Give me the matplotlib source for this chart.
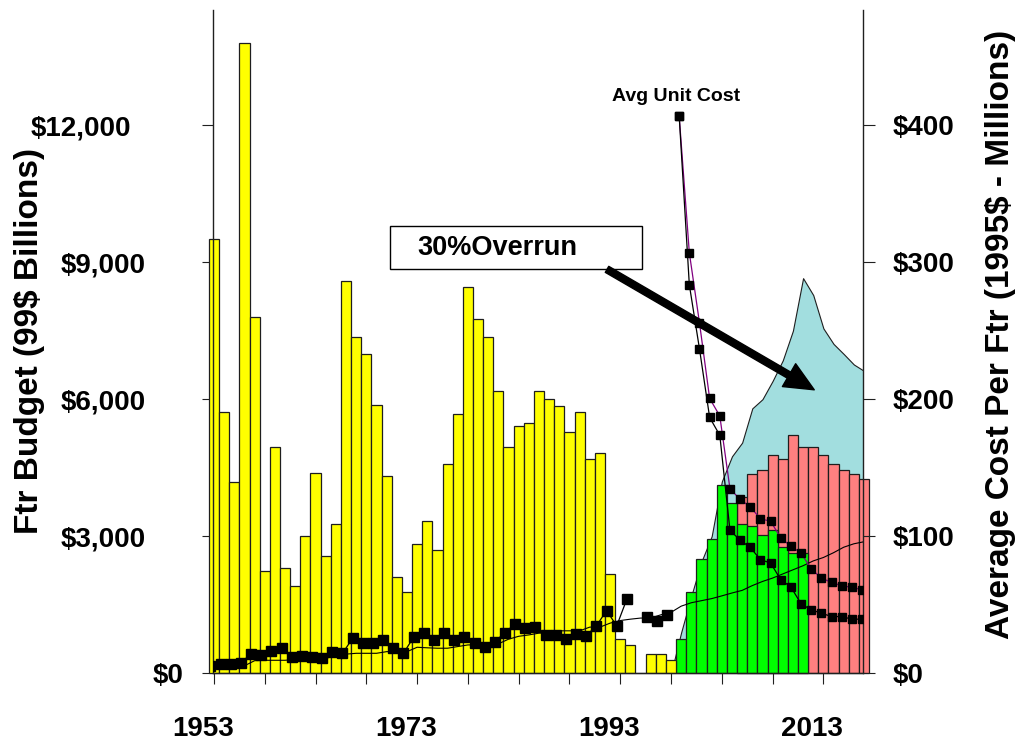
import matplotlib
matplotlib.use("Agg")
import matplotlib.pyplot as plt
from matplotlib import font_manager as fm
from matplotlib.patches import Rectangle
from matplotlib.transforms import ScaledTranslation
import numpy as np

# ---- fonts -------------------------------------------------------------
_names = {f.name for f in fm.fontManager.ttflist}
HEAVY = "Liberation Sans Narrow" if "Liberation Sans Narrow" in _names else "Liberation Sans"
plt.rcParams["font.family"] = [HEAVY, "DejaVu Sans"]
plt.rcParams["font.weight"] = "bold"

# ---- data ----------------------------------------------------------------
# Fighter budget, historical programs (left axis)
budget_years = np.arange(1953, 1999)
budget = [9500, 5730, 4190, 13790, 7810, 2230, 4960, 2310, 1920, 3010,
          4380, 2560, 3270, 8590, 7360, 6980, 5870, 4310, 2110, 1780,
          2820, 3340, 2690, 4590, 5670, 8460, 7750, 7360, 6190, 4960,
          5420, 5490, 6190, 6000, 5860, 5280, 5730, 4700, 4830, 2170,
          750, 610, 0, 420, 420, 290]

# Current program budget (green) and follow-on budget (pink)
green_years = np.arange(1999, 2012)
green = [750, 1780, 2500, 2950, 4120, 3730, 3270, 3220, 3020, 3140,
         2760, 2640, 2640]

pink_years = np.arange(2005, 2018)
pink = [3870, 4370, 4450, 4770, 4700, 5220, 4960, 4960, 4770, 4580,
        4450, 4370, 4250]

# Budget with a 30% cost overrun (shaded area)
overrun_years = np.arange(1998, 2018)
overrun = [0, 900, 1700, 2450, 3000, 4200, 4750, 5050, 5800, 6000,
           6400, 6850, 7500, 8650, 8280, 7550, 7210, 6990, 6760, 6620]

# Average cost per fighter (right axis, $ millions)
hist_years = np.arange(1953, 1999)
hist_cost = [5.6, 6.8, 6.8, 7.8, 14.1, 13.2, 16.5, 18.3, 12.2, 12.9,
             11.7, 11.0, 15.8, 14.6, 25.6, 22.0, 22.0, 24.4, 18.3, 14.6,
             26.3, 29.3, 24.4, 29.7, 24.4, 26.3, 22.4, 19.5, 23.1, 29.7,
             36.1, 32.9, 33.7, 28.0, 28.0, 25.1, 28.5, 27.5, 34.6, 45.8,
             34.6, 54.2, np.nan, 41.4, 37.8, 42.2]

trend_years = np.arange(1953, 2018)
trend = [4.4, 4.4, 4.9, 5.5, 9.2, 9.5, 9.5, 9.5, 10.2, 10.5,
         11.0, 11.0, 12.7, 14.0, 14.6, 14.6, 14.6, 15.8, 15.8, 15.8,
         19.0, 18.6, 18.3, 18.3, 19.5, 20.7, 20.7, 21.5, 21.5, 24.9,
         27.0, 28.0, 29.3, 29.3, 31.0, 31.0, 31.0, 33.7, 33.7, 36.6,
         38.5, 39.5, 40.3, 40.3, 42.7, 44.5, 49.0, 51.5, 53.0, 54.5,
         56.5, 58.6, 60.5, 64.0, 67.0, 69.5, 72.5, 75.5, 78.5, 82.0,
         84.5, 88.0, 92.0, 94.5, 96.0]

avg_years = np.arange(1999, 2018)
avg_cost_a = [406.7, 306.9, 255.7, 200.6, 187.8, 134.7, 126.9, 121.5, 112.7, 111.0,
              98.8, 92.7, 87.8, 76.1, 69.5, 66.3, 63.9, 62.7, 61.0]
avg_cost_b = [406.7, 283.5, 236.7, 186.7, 173.7, 104.4, 97.1, 91.9, 82.9, 80.5,
              68.3, 63.0, 50.7, 46.3, 43.9, 41.4, 41.4, 39.5, 39.5]

left_ticks = [0, 3000, 6000, 9000, 12000]
left_labels = ["$0", "$3,000", "$6,000", "$9,000", "$12,000"]
right_ticks = [0, 100, 200, 300, 400]
right_labels = ["$0", "$100", "$200", "$300", "$400"]
year_ticks = list(range(1953, 2014, 5))
year_labels = ["1953", "", "", "", "1973", "", "", "", "1993", "", "", "", "2013"]

# ---- figure --------------------------------------------------------------
fig = plt.figure(figsize=(10.21, 7.46), dpi=100)
ax = fig.add_axes([213.3 / 1021, 1 - 673.3 / 746, 649.7 / 1021, 663.3 / 746])
ax.set_xlim(1952.93, 2016.9)
ax.set_ylim(0, 14520)

edge = "#1e1e1e"
ax.fill_between(overrun_years, 0, overrun, facecolor="#A2DEDF",
                edgecolor=edge, linewidth=0.8, zorder=1)
ax.bar(pink_years, pink, width=1.0, color="#FF8080", edgecolor=edge,
       linewidth=0.9, zorder=2, clip_on=False)
ax.bar(green_years, green, width=1.0, color="#00FF00", edgecolor=edge,
       linewidth=0.9, zorder=3, clip_on=False)
ax.bar(budget_years, budget, width=1.0, color="#FFFF00", edgecolor=edge,
       linewidth=0.9, zorder=3, clip_on=False)

for side in ("top", "right"):
    ax.spines[side].set_visible(False)
for side in ("left", "bottom"):
    ax.spines[side].set_color("#202020")
    ax.spines[side].set_linewidth(1.0)
    ax.spines[side].set_zorder(6)

ax.set_yticks(left_ticks)
ax.set_yticklabels(left_labels)
ax.set_xticks(year_ticks)
ax.set_xticklabels(year_labels)
ax.tick_params(axis="y", direction="out", length=8, width=0.8, color="#202020",
               pad=41, labelsize=20)
ax.tick_params(axis="x", direction="out", length=8, width=0.8, color="#202020",
               pad=23, labelsize=20)

# per-label nudges of the left tick labels (points)
left_shift = [38, 0, 0, 0, -14]
for lab, dx in zip(ax.get_yticklabels(), left_shift):
    lab.set_transform(lab.get_transform() +
                      ScaledTranslation(dx / 100, 0, fig.dpi_scale_trans))
for lab in ax.get_xticklabels():
    lab.set_transform(lab.get_transform() +
                      ScaledTranslation(-11 / 100, 0, fig.dpi_scale_trans))

# ---- right axis: unit cost ----------------------------------------------
ax2 = ax.twinx()
ax2.set_ylim(0, 14520 / 30)
for side in ("top", "left", "bottom"):
    ax2.spines[side].set_visible(False)
ax2.spines["right"].set_color("#202020")
ax2.spines["right"].set_linewidth(1.0)
ax2.set_yticks(right_ticks)
ax2.set_yticklabels(right_labels)
ax2.tick_params(axis="y", direction="out", length=8.5, width=0.8, color="#202020",
                pad=13, labelsize=20)

ax2.plot(trend_years, trend, color="black", linewidth=0.8, zorder=4)
ax2.plot(hist_years - 0.35, hist_cost, color="black", linewidth=0.9,
         marker="s", markersize=6.5, markerfacecolor="black",
         markeredgecolor="black", zorder=5)
ax2.plot(avg_years - 0.2, avg_cost_a, color="#800080", linewidth=0.9,
         marker="s", markersize=5.5, markerfacecolor="black",
         markeredgecolor="black", zorder=5)
ax2.plot(avg_years - 0.2, avg_cost_b, color="black", linewidth=0.9,
         marker="s", markersize=5.5, markerfacecolor="black",
         markeredgecolor="black", zorder=5)

ax2.text(0.6137, 0.869, "Avg Unit Cost", transform=ax2.transAxes,
         ha="left", va="center", fontsize=14, fontweight="bold",
         family=["Liberation Sans", "DejaVu Sans"])

# ---- overrun callout ----------------------------------------------------
ax2.add_patch(Rectangle((0.272, 0.609), 0.388, 0.066, transform=ax2.transAxes,
                        facecolor="white", edgecolor="black", linewidth=1.0,
                        zorder=8, clip_on=False))
ax2.text(0.3135, 0.641, "30%Overrun", transform=ax2.transAxes, ha="left",
         va="center", fontsize=19.5, fontweight="bold", zorder=9)
ax2.annotate("", xy=(2012.1, 6206), xycoords=ax.transData,
             xytext=(0.606, 0.609), textcoords=ax2.transAxes,
             arrowprops=dict(facecolor="black", edgecolor="black", width=5,
                             headwidth=19, headlength=21, shrink=0),
             zorder=9)

# ---- axis titles --------------------------------------------------------
fig.text(0.029, 0.543, "Ftr Budget (99$ Billions)", rotation=90,
         ha="center", va="center", fontsize=24, fontweight="bold")
fig.text(0.980, 0.552, "Average Cost Per Ftr (1995$ - Millions)", rotation=90,
         ha="center", va="center", fontsize=24, fontweight="bold")

fig.savefig("out.png", dpi=100)
